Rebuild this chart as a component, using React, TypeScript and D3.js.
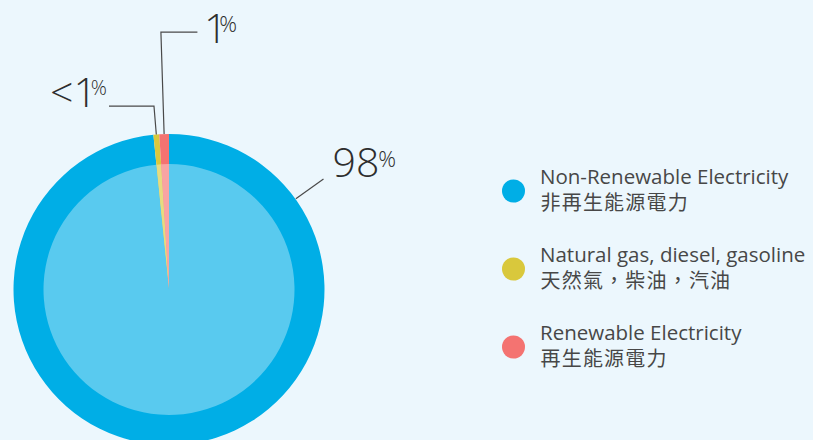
import React from 'react';
import * as d3 from 'd3';

// chart data
const categories = ['Non-Renewable Electricity', 'Natural gas, diesel, gasoline', 'Renewable Electricity'];
const categoriesZh = ['非再生能源電力', '天然氣，柴油，汽油', '再生能源電力'];
const shares = [98.4, 0.6, 1.0];
const shareLabels = ['98', '<1', '1'];
const colors = ['#00aee6', '#d9c83c', '#f47371'];

const width = 813;
const height = 440;
const cx = 169;
const cy = 289.5;
const outerR = 155.5;
const innerR = 125.5;

const App: React.FC = () => {
  const pie = d3.pie<number>().sort(null).value(d => d);
  const arcs = pie(shares);

  const outerArc = d3.arc<d3.PieArcDatum<number>>().innerRadius(0).outerRadius(outerR);
  const innerArc = d3.arc<d3.PieArcDatum<number>>().innerRadius(0).outerRadius(innerR);
  const lighten = (c: string) => d3.interpolateRgb(c, '#ffffff')(0.35);

  const polar = (a: number, r: number): [number, number] => [Math.sin(a) * r, -Math.cos(a) * r];

  // leader lines: radial segment, then an optional horizontal run
  const leaders = arcs.map((a, i) => {
    const mid = (a.startAngle + a.endAngle) / 2;
    if (i === 0) {
      const ang = (54.4 * Math.PI) / 180;
      const p0 = polar(ang, outerR + 0.5);
      const p1 = polar(ang, 190);
      return { pts: [p0, p1], end: p1, anchor: 'start', dx: 9, dy: -1.6, size: 41, pct: 22, pdx: -1, pdy: -10.7 };
    }
    if (i === 1) {
      const p0 = polar(mid, outerR);
      const p1 = polar(mid, 184);
      const p2: [number, number] = [p1[0] - 45, p1[1]];
      return { pts: [p0, p1, p2], end: p2, anchor: 'end', dx: -2, dy: 0.7, size: 41, pct: 20, pdx: -6, pdy: -11.5 };
    }
    const p0 = polar(mid, outerR);
    const p1 = polar(mid, 257.5);
    const p2: [number, number] = [p1[0] + 36.5, p1[1]];
    return { pts: [p0, p1, p2], end: p2, anchor: 'start', dx: 6.5, dy: 10.7, size: 41, pct: 22, pdx: -8, pdy: -10.7 };
  });

  const legendY = d3.scalePoint<number>().domain(d3.range(categories.length)).range([191, 347]);

  return (
    <svg width={width} height={height} style={{ position: 'absolute', left: 0, top: 0, background: '#ecf7fd' }}>
      <rect width={width} height={height} fill="#ecf7fd" />
      <g transform={`translate(${cx},${cy})`}>
        {arcs.map((a, i) => (
          <path key={'o' + i} d={outerArc(a) || ''} fill={colors[i]} />
        ))}
        {arcs.map((a, i) => (
          <path key={'i' + i} d={innerArc(a) || ''} fill={lighten(colors[i])} />
        ))}
        {leaders.map((l, i) => (
          <g key={'l' + i}>
            <path d={d3.line()(l.pts) || ''} fill="none" stroke="#4a4a4a" strokeWidth={1.2} />
            <text
              x={l.end[0] + l.dx}
              y={l.end[1] + l.dy}
              textAnchor={l.anchor}
              fontFamily="'Open Sans', sans-serif"
              fontWeight={300}
              fill="#2e2e2e"
            >
              <tspan fontSize={l.size}>{shareLabels[i]}</tspan>
              <tspan fontSize={l.pct} dx={l.pdx} dy={l.pdy}>%</tspan>
            </text>
          </g>
        ))}
      </g>
      <g>
        {categories.map((c, i) => (
          <g key={c} transform={`translate(0,${legendY(i)})`}>
            <circle cx={513.5} cy={0} r={11.5} fill={colors[i]} />
            <text x={540} y={-7} fontFamily="'Open Sans', sans-serif" fontSize={20.5} fill="#474747">
              {c}
            </text>
            <text x={540.5} y={18.5} fontFamily="'Noto Sans CJK TC', sans-serif" fontSize={20} fill="#474747" letterSpacing={1.2}>
              {categoriesZh[i]}
            </text>
          </g>
        ))}
      </g>
    </svg>
  );
};

export default App;
